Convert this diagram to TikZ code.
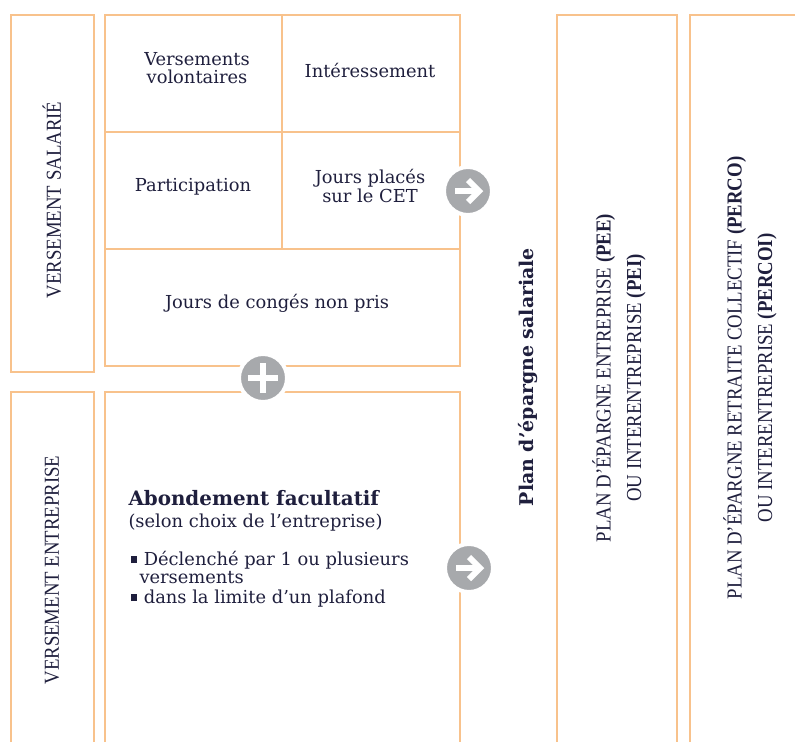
\documentclass[tikz,border=0pt]{standalone}
\usepackage{fontspec}
\setmainfont{DejaVu Serif}
\newfontfamily\capsfont[FakeStretch=0.88]{Liberation Serif}

\definecolor{lineor}{HTML}{F8C28C}
\definecolor{btngray}{HTML}{A7A9AC}
\definecolor{inkblue}{HTML}{1F1F3D}

\newcommand{\puce}{\rule[1.5pt]{5pt}{5pt}\hspace{5pt}}

\tikzset{every picture/.style={line width=0.75pt}}
\tikzset{
  frame/.style={draw=lineor, line width=1.5pt},
  cell/.style={text=inkblue, font=\fontsize{13.4}{14}\selectfont, align=center},
  lefttxt/.style={text=inkblue, font=\fontsize{13.4}{14}\selectfont, anchor=base west, inner sep=0pt},
  vcaps/.style={text=inkblue, font=\capsfont\fontsize{16}{23}\selectfont, rotate=90, align=center},
  btn/.style={circle, fill=btngray, draw=white, line width=3pt, minimum size=36pt, inner sep=0pt},
  glyph/.style={draw=white, line width=4.5pt, line join=miter}
}

\begin{document}
\begin{tikzpicture}[x=0.75pt,y=0.75pt,yscale=-1,xscale=1]
\useasboundingbox (0,0) rectangle (795,742);

%Shape: Rectangle [versement salarie]
\draw [frame] (11,15) rectangle (94,372) ;
%Shape: Rectangle [grille]
\draw [frame] (105,15) rectangle (460,366) ;
%Straight Lines
\draw [frame] (105,132) -- (460,132) ;
%Straight Lines
\draw [frame] (105,249) -- (460,249) ;
%Straight Lines
\draw [frame] (282,15) -- (282,249) ;
%Open boxes, running off the bottom
\draw [frame] (11,742) -- (11,392) -- (94,392) -- (94,742) ;
\draw [frame] (105,742) -- (105,392) -- (460,392) -- (460,742) ;
\draw [frame] (557,742) -- (557,15) -- (677,15) -- (677,742) ;
\draw [frame] (690,742) -- (690,15) -- (800,15) ;

% Text Node
\node [vcaps] (salarie) at (52,200) {VERSEMENT SALARIÉ};
% Text Node
\node [vcaps] (entreprise) at (52,570) {VERSEMENT ENTREPRISE};
% Text Node
\node [cell] (volont) at (197,68) {Versements\\volontaires};
% Text Node
\node [cell] (interess) at (370,70) {Intéressement};
% Text Node
\node [cell] (particip) at (193,187) {Participation};
% Text Node
\node [cell] (cet) at (370,186) {Jours placés\\sur le CET};
% Text Node
\node [cell] (conges) at (277,303) {Jours de congés non pris};

% Text Node
\node [lefttxt] (abond) at (128,505) {\fontsize{14.9}{15}\selectfont\bfseries Abondement facultatif};
% Text Node
\node [lefttxt] (choix) at (128,527) {(selon choix de l’entreprise)};
% Text Node
\node [lefttxt] (pucea) at (130,565) {\puce Déclenché par 1 ou plusieurs};
% Text Node
\node [lefttxt] (puceb) at (139,583) {versements};
% Text Node
\node [lefttxt] (pucec) at (130,603) {\puce dans la limite d’un plafond};

% Text Node
\node [text=inkblue, font=\fontsize{14.2}{15}\selectfont\bfseries, rotate=90] (pes) at (528,377) {Plan d’épargne salariale};
% Text Node
\node [vcaps] (pee) at (619,378) {PLAN D’ÉPARGNE ENTREPRISE \textbf{(PEE)}\\OU INTERENTREPRISE \textbf{(PEI)}};
% Text Node
\node [vcaps] (perco) at (750,378) {PLAN D’ÉPARGNE RETRAITE COLLECTIF \textbf{(PERCO)}\\OU INTERENTREPRISE \textbf{(PERCOI)}};

%Buttons
\node [btn] (flecha) at (468,191) {};
\draw [glyph, shift={(flecha)}] (-13,0) -- (9,0) ;
\draw [glyph, shift={(flecha)}] (0,-11) -- (11,0) -- (0,11) ;
\node [btn] (flechb) at (469,568) {};
\draw [glyph, shift={(flechb)}] (-13,0) -- (9,0) ;
\draw [glyph, shift={(flechb)}] (0,-11) -- (11,0) -- (0,11) ;
\node [btn] (plus) at (263,378) {};
\draw [glyph, shift={(plus)}] (-15,0) -- (15,0) ;
\draw [glyph, shift={(plus)}] (0,-15) -- (0,15) ;

\end{tikzpicture}
\end{document}
